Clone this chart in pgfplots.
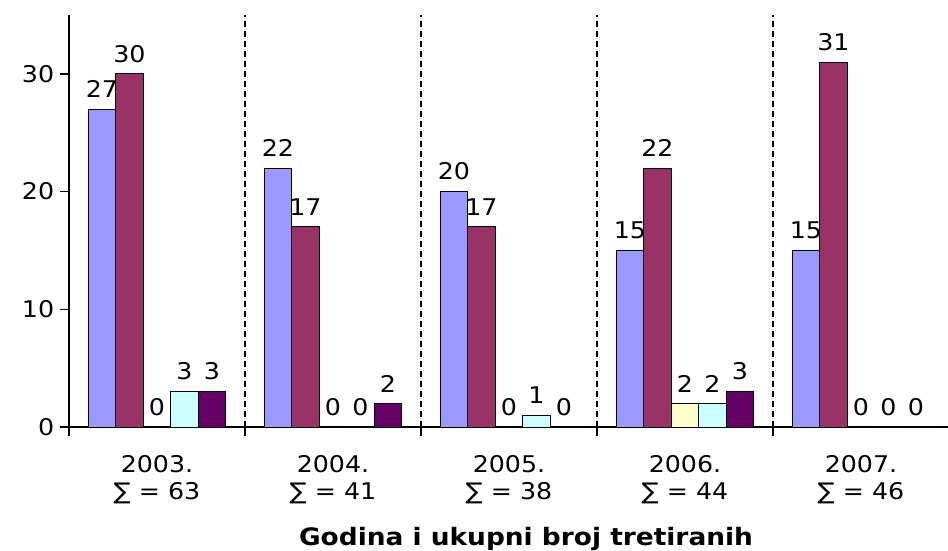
\documentclass[border=0pt]{standalone}
\usepackage{fontspec}
\setmainfont[FakeStretch=1.1]{DejaVu Sans}
\usepackage{pgfplots}
\pgfplotsset{compat=1.18}
\definecolor{cA}{HTML}{9999FF}
\definecolor{cB}{HTML}{993366}
\definecolor{cC}{HTML}{FFFFCC}
\definecolor{cD}{HTML}{CCFFFF}
\definecolor{cE}{HTML}{660066}
\begin{document}
\fontsize{23}{27}\selectfont
\begin{tikzpicture}
\begin{axis}[
  width=880pt, height=412pt, scale only axis,
  ybar=0pt, bar width=27.5pt,
  xmin=-0.5, xmax=4.5, ymin=0, ymax=35,
  axis x line=bottom, axis y line=left,
  axis line style={-, line width=1.3pt, black},
  xtick={0,1,2,3,4},
  xticklabels={{2003.\\∑ = 63},{2004.\\∑ = 41},{2005.\\∑ = 38},{2006.\\∑ = 44},{2007.\\∑ = 46}},
  xticklabel style={align=center, font=\fontsize{23}{27}\selectfont, yshift=-12pt},
  major x tick style={draw=none},
  minor xtick={-0.5,0.5,1.5,2.5,3.5},
  xminorgrids,
  minor x grid style={black, line width=1.2pt, dash pattern=on 6pt off 4pt},
  tick align=outside,
  ytick={0,10,20,30},
  yticklabel style={font=\fontsize{23}{27}\selectfont, xshift=2pt},
  /pgf/number format/assume math mode=true,
  major tick length=9pt, minor tick length=9pt,
  every tick/.style={black, line width=1.3pt},
  every minor tick/.style={black, line width=1.3pt},
  nodes near coords,
  every node near coord/.append style={font=\fontsize{23}{27}\selectfont, inner sep=2pt, yshift=9pt, black},
  xlabel={\bfseries Godina i ukupni broj tretiranih},
  xlabel style={at={(rel axis cs:0.5,0)}, anchor=base, yshift=-118pt, xshift=17pt, font=\fontsize{24}{28}\selectfont},
  every axis plot/.append style={draw=black, line width=0.8pt},
]
\addplot[fill=cA] coordinates {(0,27) (1,22) (2,20) (3,15) (4,15)};
\addplot[fill=cB] coordinates {(0,30) (1,17) (2,17) (3,22) (4,31)};
\addplot[fill=cC] coordinates {(0,0) (1,0) (2,0) (3,2) (4,0)};
\addplot[fill=cD] coordinates {(0,3) (1,0) (2,1) (3,2) (4,0)};
\addplot[fill=cE] coordinates {(0,3) (1,2) (2,0) (3,3) (4,0)};
\end{axis}
\pgfresetboundingbox
\path (-69pt,-123pt) rectangle (879pt,427pt);
\end{tikzpicture}
\end{document}
